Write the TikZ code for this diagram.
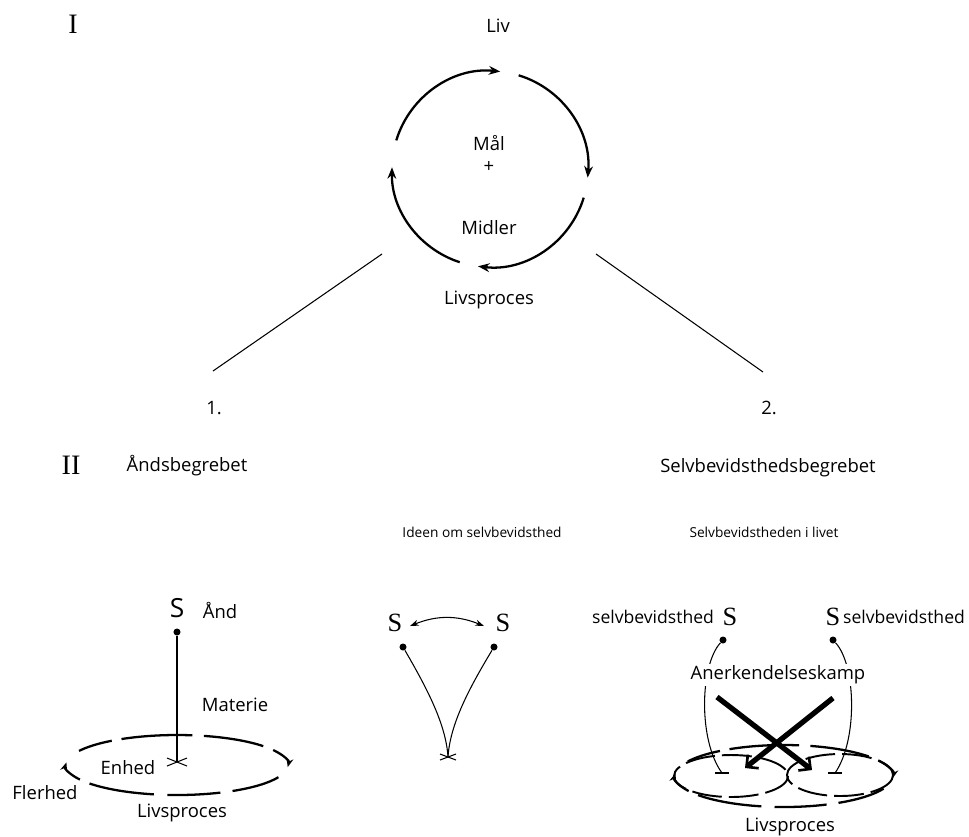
\documentclass[tikz,border=0pt]{standalone}
\usepackage{fontspec}
\setmainfont{Open Sans}
\newfontfamily\serifS{Liberation Serif}
\usetikzlibrary{arrows.meta}
\begin{document}
\begin{tikzpicture}[x=0.02cm,y=-0.02cm,
  lbl/.style={font=\fontsize{10.5}{12}\selectfont, inner sep=1pt},
  sublbl/.style={font=\fontsize{7.8}{9}\selectfont, inner sep=1pt},
  sidelbl/.style={font=\fontsize{10}{12}\selectfont, inner sep=1pt},
  roman/.style={font=\serifS\fontsize{16}{16}\selectfont, inner sep=0pt},
  bigS/.style={font=\serifS\fontsize{15}{15}\selectfont, inner sep=0pt},
  sansS/.style={font=\fontsize{15}{15}\selectfont, inner sep=0pt},
  fine/.style={line width=0.6pt},
  cyc/.style={line width=1.3pt, -{Stealth[length=6.5pt,width=5pt]}},
  dseg/.style={line width=1.3pt},
  darr/.style={line width=1.3pt, -{Stealth[length=5pt,width=4pt]}},
  dring/.style={line width=1.1pt, dash pattern=on 17pt off 4pt},
  boldarr/.style={line width=3pt, -{Straight Barb[angle=90:7pt, line width=1.5pt]}},
  dot/.style={circle, fill, inner sep=0pt, minimum size=4pt},
  twoarr/.style={fine, {Stealth[length=5pt,width=3.5pt]}-{Stealth[length=5pt,width=3.5pt]}}
]
\useasboundingbox (0,0) rectangle (969,836);

% ---------- Part I ----------
\node[roman] (rI) at (73,24) {I};
\node[lbl] (liv) at (498,26) {Liv};
\node[lbl] (maal) at (489,143) {Mål};
\node[lbl] (plus) at (489,167) {+};
\node[lbl] (midler) at (489,228) {Midler};
\node[lbl] (lp1) at (489,300) {Livsproces};
\begin{scope}[shift={(490,169)}, y=0.02cm]
  \draw[cyc] (163:98) arc[start angle=163, end angle=84, radius=98];
  \draw[cyc] (73:98) arc[start angle=73, end angle=-5, radius=98];
  \draw[cyc] (-17:98) arc[start angle=-17, end angle=-97, radius=98];
  \draw[cyc] (-108:98) arc[start angle=-108, end angle=-181, radius=98];
\end{scope}

\coordinate (l1a) at (382,254);
\coordinate (l1b) at (213,371);
\coordinate (l2a) at (596,254);
\coordinate (l2b) at (763,372);
\draw[fine] (l1a) -- (l1b);
\draw[fine] (l2a) -- (l2b);
\node[lbl] (n1) at (214,408) {1.};
\node[lbl] (n2) at (769,408) {2.};

% ---------- Part II ----------
\node[roman] (rII) at (71,465) {II};
\node[lbl] (andsb) at (187,466) {Åndsbegrebet};
\node[lbl] (selvb) at (768,468) {Selvbevidsthedsbegrebet};
\node[sublbl] (ideen) at (482,532) {Ideen om selvbevidsthed};
\node[sublbl] (selvl) at (764,532) {Selvbevidstheden i livet};

% left figure
\node[sansS] (sA) at (177,608) {S};
\node[lbl] (aand) at (220,610) {Ånd};
\node[dot] (dA) at (177,632) {};
\coordinate (xA) at (177,762);
\draw[fine] (dA) -- (xA);
\draw[fine] (xA) ++(-10,-4) -- ++(20,8);
\draw[fine] (xA) ++(-10,4) -- ++(20,-8);
\node[lbl] (mat) at (235,705) {Materie};
\begin{scope}[shift={(177,765)}, y=0.02cm]
  \foreach \a/\b in {152/126,120/82,76/39,-24/-60,-67/-95,-102/-142}
    \draw[dseg] (\a:111 and 30) arc[start angle=\a, end angle=\b, x radius=111, y radius=30];
  \draw[darr] (30:111 and 30) arc[start angle=30, end angle=-4, x radius=111, y radius=30];
  \draw[darr] (209:111 and 30) arc[start angle=209, end angle=175, x radius=111, y radius=30];
\end{scope}
\node[lbl] (enh) at (128,768) {Enhed};
\node[lbl] (fler) at (45,793) {Flerhed};
\node[lbl] (lp2) at (182,813) {Livsproces};

% middle figure
\node[bigS] (sM1) at (395,623) {S};
\node[bigS] (sM2) at (503,623) {S};
\coordinate (aM1) at (410,626);
\coordinate (aM2) at (484,626);
\draw[twoarr] (aM1) to[bend left=22] (aM2);
\node[dot] (dM1) at (403,647) {};
\node[dot] (dM2) at (494,647) {};
\coordinate (xM) at (448,757);
\draw[fine] (dM1) .. controls (428,690) and (446,725) .. (xM);
\draw[fine] (dM2) .. controls (468,690) and (450,725) .. (xM);
\draw[fine] (xM) ++(-8,-3) -- ++(16,6);
\draw[fine] (xM) ++(-8,3) -- ++(16,-6);

% right figure
\node[sidelbl, anchor=east] (sv1) at (716,617) {selvbevidsthed};
\node[bigS] (sR1) at (730,617) {S};
\node[bigS] (sR2) at (833,617) {S};
\node[sidelbl, anchor=west] (sv2) at (841,617) {selvbevidsthed};
\node[dot] (dR1) at (723,640) {};
\node[dot] (dR2) at (833,640) {};
\coordinate (tL) at (722,773);
\coordinate (tR) at (835,773);
\draw[fine] (dR1) .. controls (700,665) and (698,740) .. (tL);
\draw[fine] (dR2) .. controls (856,665) and (858,740) .. (tR);
\draw[fine] (tL) ++(-7,0) -- ++(14,0);
\draw[fine] (tR) ++(-7,0) -- ++(14,0);
\begin{scope}[shift={(784,776)}, y=0.02cm]
  \foreach \a/\b in {152/126,120/82,76/39,-24/-60,-67/-95,-102/-142}
    \draw[dseg] (\a:109 and 31) arc[start angle=\a, end angle=\b, x radius=109, y radius=31];
  \draw[darr] (30:109 and 31) arc[start angle=30, end angle=-4, x radius=109, y radius=31];
  \draw[darr] (209:109 and 31) arc[start angle=209, end angle=175, x radius=109, y radius=31];
\end{scope}
\draw[dring] (731,776) ellipse[x radius=57, y radius=21];
\draw[dring] (840,775) ellipse[x radius=53, y radius=21];
\node[lbl, fill=white, inner sep=1pt] (anerk) at (778,675) {Anerkendelseskamp};
\coordinate (b1s) at (717,697);
\coordinate (b1e) at (812,770);
\coordinate (b2s) at (833,698);
\coordinate (b2e) at (745,768);
\draw[boldarr] (b1s) -- (b1e);
\draw[boldarr] (b2s) -- (b2e);
\node[lbl] (lp3) at (790,827) {Livsproces};
\end{tikzpicture}
\end{document}
